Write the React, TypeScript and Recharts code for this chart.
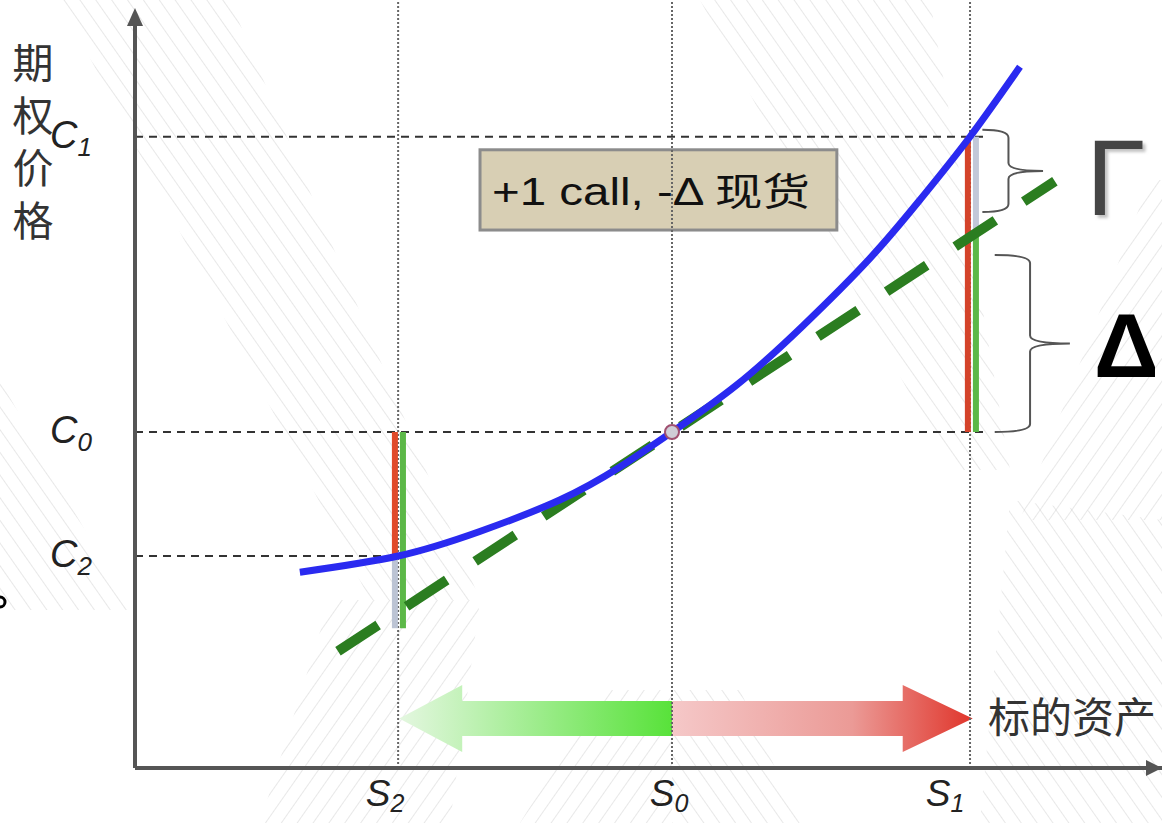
import React from "react";
import { ComposedChart, Line, XAxis, YAxis, ReferenceLine, ReferenceArea, ReferenceDot } from "recharts";

// ticks: underlying S2, S0, S1 and option price C2, C0, C1
const sTicks = [49, 100, 155.5];
const sSubs = ["2", "0", "1"];
const sShift = [-13, -3, -25];
const cTicks = [27.6, 43.75, 82.2];
const cSubs = ["2", "0", "1"];

// option price curve
const curveS = [30.7, 49, 64.2, 79.1, 90.3, 100, 112.1, 124.4, 136.9, 146.2, 155.5, 164.8];
const curveC = [25.5, 27.6, 30.8, 34.9, 39.2, 43.75, 49.9, 57.6, 66.4, 74.0, 82.2, 91.3];

// delta tangent through (S0, C0)
const tangentS = [37.8, 171.3];
const tangentC = [15.2, 76.4];

// vertical bar ends
const deltaAtS1 = 69.8;
const lowAtS2 = 18.2;

const curveData = curveS.map((s, i) => ({ s, c: curveC[i] }));
const tangentData = tangentS.map((s, i) => ({ s, c: tangentC[i] }));

const FONT = "'Liberation Sans', Arial, 'Noto Sans CJK SC', sans-serif";
const CJK = "'Noto Sans CJK SC', sans-serif";

// background hatching, just decoration
const hatch = [
  { id: "hb", pts: "60,0 230,0 480,600 370,600" },
  { id: "hb", pts: "0,380 130,610 0,610" },
  { id: "hb", pts: "700,0 930,0 1010,470 950,470" },
  { id: "hb", pts: "672,690 740,690 800,823 672,823" },
  { id: "hb", pts: "1010,500 1162,520 1162,823 980,823" },
  { id: "hf", pts: "330,600 480,600 450,823 260,823" },
  { id: "hf", pts: "600,690 672,690 672,823 520,823" },
  { id: "hf", pts: "1150,180 1162,180 1162,520 1020,520" },
];

const STick = (props: any) => {
  const i = sTicks.indexOf(props.payload.value);
  return (
    <text x={props.x + sShift[i]} y={806} fontFamily={FONT} fontStyle="italic" fontSize={37} fill="#222" textAnchor="middle">
      S<tspan fontSize={25} dy={6}>{sSubs[i]}</tspan>
    </text>
  );
};

const CTick = (props: any) => {
  const i = cTicks.indexOf(props.payload.value);
  return (
    <text x={50} y={props.y + 11} fontFamily={FONT} fontStyle="italic" fontSize={38} fill="#222">
      C<tspan fontSize={26} dy={8}>{cSubs[i]}</tspan>
    </text>
  );
};

const brace = (stem: number) => (p: any) => {
  const { x, y, width, height } = p;
  const sx = x + width * stem;
  const ym = y + height / 2;
  const r = 8;
  const d = `M${x} ${y} Q${sx} ${y} ${sx} ${y + r} L${sx} ${ym - r} Q${sx} ${ym} ${x + width} ${ym} Q${sx} ${ym} ${sx} ${ym + r} L${sx} ${y + height - r} Q${sx} ${y + height} ${x} ${y + height}`;
  return <path d={d} fill="none" stroke="#555" strokeWidth={2} />;
};

const leftArrow = (p: any) => {
  const { x, y, width, height } = p;
  const cy = y + height / 2;
  const hl = 63;
  const bh = 17.5;
  const pts = [
    [x, cy], [x + hl, y], [x + hl, cy - bh], [x + width, cy - bh],
    [x + width, cy + bh], [x + hl, cy + bh], [x + hl, y + height],
  ].map((q) => q.join(",")).join(" ");
  return <polygon points={pts} fill="url(#gGreen)" />;
};

const rightArrow = (p: any) => {
  const { x, y, width, height } = p;
  const cy = y + height / 2;
  const hl = 70;
  const bh = 17.5;
  const xe = x + width;
  const pts = [
    [x, cy - bh], [xe - hl, cy - bh], [xe - hl, y], [xe, cy],
    [xe - hl, y + height], [xe - hl, cy + bh], [x, cy + bh],
  ].map((q) => q.join(",")).join(" ");
  return <polygon points={pts} fill="url(#gRed)" />;
};

const labelBox = (p: any) => {
  const { x, y, width, height } = p;
  return (
    <g>
      <rect x={x} y={y} width={width} height={height} fill="#d8cfb4" stroke="#8c8c8c" strokeWidth={3} />
      <text x={x + 12} y={y + 55} fontFamily={FONT} fontSize={38} fill="#111" textLength={318} lengthAdjust="spacingAndGlyphs">
        +1 call, -Δ <tspan fontFamily={CJK}>现货</tspan>
      </text>
    </g>
  );
};

export default function App() {
  return (
    <div style={{ position: "relative", width: 1162, height: 823, background: "#fff" }}>
      <style>{`body{margin:0}`}</style>
      <svg width={1162} height={823} style={{ position: "absolute", left: 0, top: 0 }}>
        <defs>
          <pattern id="hb" width={13} height={13} patternUnits="userSpaceOnUse" patternTransform="rotate(-35)">
            <line x1={0} y1={0} x2={0} y2={13} stroke="#d2d2d2" strokeWidth={1} />
          </pattern>
          <pattern id="hf" width={13} height={13} patternUnits="userSpaceOnUse" patternTransform="rotate(35)">
            <line x1={0} y1={0} x2={0} y2={13} stroke="#d2d2d2" strokeWidth={1} />
          </pattern>
          <linearGradient id="gGreen" x1="0" y1="0" x2="1" y2="0">
            <stop offset="0" stopColor="#e4f7e0" />
            <stop offset="1" stopColor="#58e23a" />
          </linearGradient>
          <linearGradient id="gRed" x1="0" y1="0" x2="1" y2="0">
            <stop offset="0" stopColor="#f5c8c8" />
            <stop offset="0.6" stopColor="#eb9a96" />
            <stop offset="1" stopColor="#e0352b" />
          </linearGradient>
          <filter id="shadow" x="-20%" y="-20%" width="150%" height="150%">
            <feDropShadow dx={3} dy={3} stdDeviation={1.5} floodColor="#999" floodOpacity={0.6} />
          </filter>
        </defs>
        {hatch.map((h, i) => (
          <polygon key={i} points={h.pts} fill={`url(#${h.id})`} />
        ))}
      </svg>
      <div style={{ position: "absolute", left: 0, top: 0 }}>
        <ComposedChart width={1162} height={823} margin={{ top: 20, right: 0, left: 75, bottom: 25 }}>
          <XAxis
            type="number"
            dataKey="s"
            domain={[0, 191.25]}
            allowDataOverflow
            ticks={sTicks}
            interval={0}
            tick={<STick />}
            tickLine={false}
            height={30}
            axisLine={{ stroke: "#555", strokeWidth: 4 }}
          />
          <YAxis
            type="number"
            domain={[0, 97.4]}
            allowDataOverflow
            ticks={cTicks}
            interval={0}
            tick={<CTick />}
            tickLine={false}
            width={60}
            axisLine={{ stroke: "#555", strokeWidth: 4 }}
          />
          {sTicks.map((s) => (
            <ReferenceLine key={"g" + s} segment={[{ x: s, y: 0 }, { x: s, y: 100 }]} ifOverflow="visible" stroke="#666" strokeWidth={2} strokeDasharray="2 2" />
          ))}
          <ReferenceLine segment={[{ x: 0, y: cTicks[2] }, { x: 158.3, y: cTicks[2] }]} stroke="#333" strokeWidth={2} strokeDasharray="8 6" />
          <ReferenceLine segment={[{ x: 0, y: cTicks[1] }, { x: 158.3, y: cTicks[1] }]} stroke="#333" strokeWidth={2} strokeDasharray="8 6" />
          <ReferenceLine segment={[{ x: 0, y: cTicks[0] }, { x: sTicks[0], y: cTicks[0] }]} stroke="#333" strokeWidth={2} strokeDasharray="8 6" />

          <ReferenceArea x1={64.25} x2={130.7} y1={70.05} y2={80.5} shape={labelBox} />
          <ReferenceArea x1={49.2} x2={100} y1={2.08} y2={10.8} shape={leftArrow} />
          <ReferenceArea x1={100} x2={156} y1={2.08} y2={10.8} shape={rightArrow} />
          <ReferenceArea x1={157.8} x2={169.1} y1={72.4} y2={83.1} shape={brace(0.43)} />
          <ReferenceArea x1={160.1} x2={174.1} y1={43.75} y2={66.8} shape={brace(0.47)} />

          {/* bars at S1 */}
          <ReferenceLine segment={[{ x: 155.1, y: cTicks[1] }, { x: 155.1, y: cTicks[2] }]} stroke="#d4432a" strokeWidth={6} />
          <ReferenceLine segment={[{ x: 156.6, y: cTicks[1] }, { x: 156.6, y: deltaAtS1 }]} stroke="#5cb848" strokeWidth={6} />
          <ReferenceLine segment={[{ x: 156.6, y: deltaAtS1 }, { x: 156.6, y: cTicks[2] }]} stroke="#c2c8d8" strokeWidth={6} />
          {/* bars at S2 */}
          <ReferenceLine segment={[{ x: 48.4, y: cTicks[0] }, { x: 48.4, y: cTicks[1] }]} stroke="#e04a2a" strokeWidth={6} />
          <ReferenceLine segment={[{ x: 48.4, y: lowAtS2 }, { x: 48.4, y: cTicks[0] }]} stroke="#bcc4d4" strokeWidth={6} />
          <ReferenceLine segment={[{ x: 49.9, y: lowAtS2 }, { x: 49.9, y: cTicks[1] }]} stroke="#5cb848" strokeWidth={6} />

          <Line data={tangentData} dataKey="c" type="linear" stroke="#2b7d20" strokeWidth={10} strokeDasharray="48 34" dot={false} isAnimationActive={false} />
          <Line data={curveData} dataKey="c" type="natural" stroke="#2a2af0" strokeWidth={7} dot={false} isAnimationActive={false} />
          <ReferenceDot x={sTicks[1]} y={cTicks[1]} r={7} fill="#cfcdd6" stroke="#a05070" strokeWidth={2} />
        </ComposedChart>
      </div>
      <svg width={1162} height={823} style={{ position: "absolute", left: 0, top: 0, pointerEvents: "none" }}>
        <polygon points="135,8 127,26 143,26" fill="#555" />
        <polygon points="1162,768 1146,760 1146,776" fill="#555" />
        <text x={33} y={42} writingMode="vertical-rl" letterSpacing={11.5} fontFamily={CJK} fontSize={41} fill="#333">期权价格</text>
        <text x={988} y={733} fontFamily={CJK} fontSize={42} fill="#333">标的资产</text>
        <text x={1086} y={215} fontFamily={FONT} fontSize={108} fill="#444" filter="url(#shadow)">Γ</text>
        <text x={1094} y={377} fontFamily={FONT} fontSize={90} fontWeight="bold" fill="#000">Δ</text>
        <circle cx={0} cy={602} r={5} fill="none" stroke="#000" strokeWidth={3} />
      </svg>
    </div>
  );
}
